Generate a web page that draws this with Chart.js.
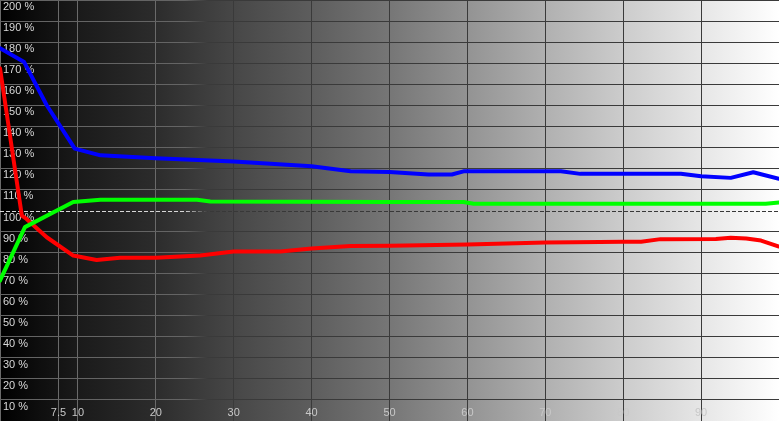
<!DOCTYPE html>
<html>
<head>
<meta charset="utf-8">
<script src="https://cdn.jsdelivr.net/npm/chart.js@4/dist/chart.umd.min.js"></script>
<style>
html,body{margin:0;padding:0;background:#000;}
canvas{display:block;}
</style>
</head>
<body>
<canvas id="c" width="779" height="421"></canvas>
<script>
// ---- data ----
const xTickValues = [0, 7.5, 10, 20, 30, 40, 50, 60, 70, 80, 90, 100];
const xTickLabels = ["7.5", "10", "20", "30", "40", "50", "60", "70", "80", "90"];
const xLabelValues = [7.5, 10, 20, 30, 40, 50, 60, 70, 80, 90];
const yLabelValues = [200, 190, 180, 170, 160, 150, 140, 130, 120, 110, 100, 90, 80, 70, 60, 50, 40, 30, 20, 10];
const referenceLevel = 100;

const blueX = [0, 3.1, 6.0, 9.6, 12.9, 20, 30, 40, 45, 50, 55, 58, 59.5, 72, 74.5, 77, 87.4, 90, 93.8, 96.7, 100];
const blueY = [177.1, 170.5, 150, 129.4, 126.2, 124.8, 123.3, 121, 118.6, 118.3, 117.1, 117.1, 118.6, 118.6, 117.4, 117.5, 117.5, 116.3, 115.5, 118.2, 115.1];

const greenX = [0, 3.2, 9.4, 12.9, 25.3, 27, 50, 59.5, 60.8, 98.3, 100];
const greenY = [66.7, 92.1, 104.0, 105.1, 105.1, 104.3, 104.0, 104.0, 103.2, 103.2, 103.8];

const redX = [0, 2.8, 3.4, 6.0, 9.4, 12.4, 15.4, 20, 25.7, 30, 36, 40, 45, 50, 60, 70, 77, 80, 82.3, 84.8, 91.9, 93.8, 95.8, 97.7, 100];
const redY = [167.6, 97.6, 96, 87.3, 78.6, 76.5, 77.5, 77.6, 78.6, 80.5, 80.5, 81.9, 83.1, 83.3, 83.8, 84.8, 85, 85.2, 85.2, 86.4, 86.5, 87, 86.7, 85.7, 82.9];

const toPts = (xs, ys) => xs.map((x, i) => ({x: x, y: ys[i]}));

function contrastGradient(chart, light, dark) {
  const a = chart.chartArea;
  if (!a) return light;
  const w = a.right - a.left;
  const g = chart.ctx.createLinearGradient(a.left, 0, a.right, 0);
  g.addColorStop(0, light);
  g.addColorStop(185 / w, light);
  g.addColorStop(208 / w, dark);
  g.addColorStop(1, dark);
  return g;
}

const bgPlugin = {
  id: 'bg',
  beforeDraw(chart) {
    const a = chart.chartArea, ctx = chart.ctx;
    const g = ctx.createLinearGradient(a.left, 0, a.right, 0);
    const stops = [[0,'#000000'],[0.05,'#0e0e0e'],[0.1,'#1a1a1a'],[0.2,'#2c2c2c'],[0.3,'#474747'],[0.4,'#5d5d5d'],[0.5,'#767676'],[0.6,'#939393'],[0.7,'#b0b0b0'],[0.8,'#cccccc'],[0.9,'#e6e6e6'],[1,'#ffffff']];
    stops.forEach(s => g.addColorStop(s[0], s[1]));
    ctx.save();
    ctx.fillStyle = '#000';
    ctx.fillRect(0, 0, chart.width, chart.height);
    ctx.fillStyle = g;
    ctx.fillRect(a.left, a.top, a.right - a.left, a.bottom - a.top);
    ctx.restore();
  }
};

const labelPlugin = {
  id: 'labels',
  beforeDatasetsDraw(chart) {
    const ctx = chart.ctx, xs = chart.scales.x, ys = chart.scales.y, a = chart.chartArea;
    ctx.save();
    // dashed reference line
    const yRef = Math.round(ys.getPixelForValue(referenceLevel)) + 0.5;
    ctx.setLineDash([4, 2]);
    ctx.lineWidth = 1;
    ctx.strokeStyle = contrastGradient(chart, '#d8d8d8', '#383838');
    ctx.beginPath();
    ctx.moveTo(a.left, yRef);
    ctx.lineTo(a.right, yRef);
    ctx.stroke();
    ctx.setLineDash([]);
    // labels
    ctx.font = '11px "Liberation Sans", Arial, sans-serif';
    ctx.textBaseline = 'middle';
    ctx.textAlign = 'left';
    ctx.fillStyle = '#d8d8d8';
    yLabelValues.forEach(v => {
      ctx.fillText(v + ' %', 3, ys.getPixelForValue(v) + 7);
    });
    ctx.textAlign = 'center';
    ctx.fillStyle = '#c8c8c8';
    xLabelValues.forEach((v, i) => {
      ctx.fillText(xTickLabels[i], xs.getPixelForValue(v), 413);
    });
    ctx.restore();
  }
};

new Chart(document.getElementById('c'), {
  type: 'line',
  data: {
    datasets: [
      {data: toPts(greenX, greenY), borderColor: '#00ff00', borderWidth: 4},
      {data: toPts(redX, redY), borderColor: '#ff0000', borderWidth: 4},
      {data: toPts(blueX, blueY), borderColor: '#0000ff', borderWidth: 4}
    ]
  },
  options: {
    responsive: false,
    animation: false,
    devicePixelRatio: 1,
    layout: {padding: 0},
    elements: {
      point: {radius: 0},
      line: {tension: 0, fill: false, borderJoinStyle: 'round', borderCapStyle: 'round'}
    },
    plugins: {legend: {display: false}, tooltip: {enabled: false}},
    scales: {
      x: {
        type: 'linear', min: 0, max: 100,
        afterBuildTicks: (s) => { s.ticks = xTickValues.map(v => ({value: v})); },
        ticks: {display: false},
        border: {display: false},
        grid: {drawTicks: false, lineWidth: 1,
               color: (c) => (c.tick && c.tick.value <= 20) ? '#6a6a6a' : '#3a3a3a'}
      },
      y: {
        type: 'linear', min: 0, max: 200,
        ticks: {display: false, stepSize: 10},
        border: {display: false},
        grid: {drawTicks: false, lineWidth: 1,
               color: (c) => (c.tick && c.tick.value === referenceLevel) ? 'rgba(0,0,0,0)' : contrastGradient(c.chart, '#646464', '#3a3a3a')}
      }
    }
  },
  plugins: [bgPlugin, labelPlugin]
});
</script>
</body>
</html>
